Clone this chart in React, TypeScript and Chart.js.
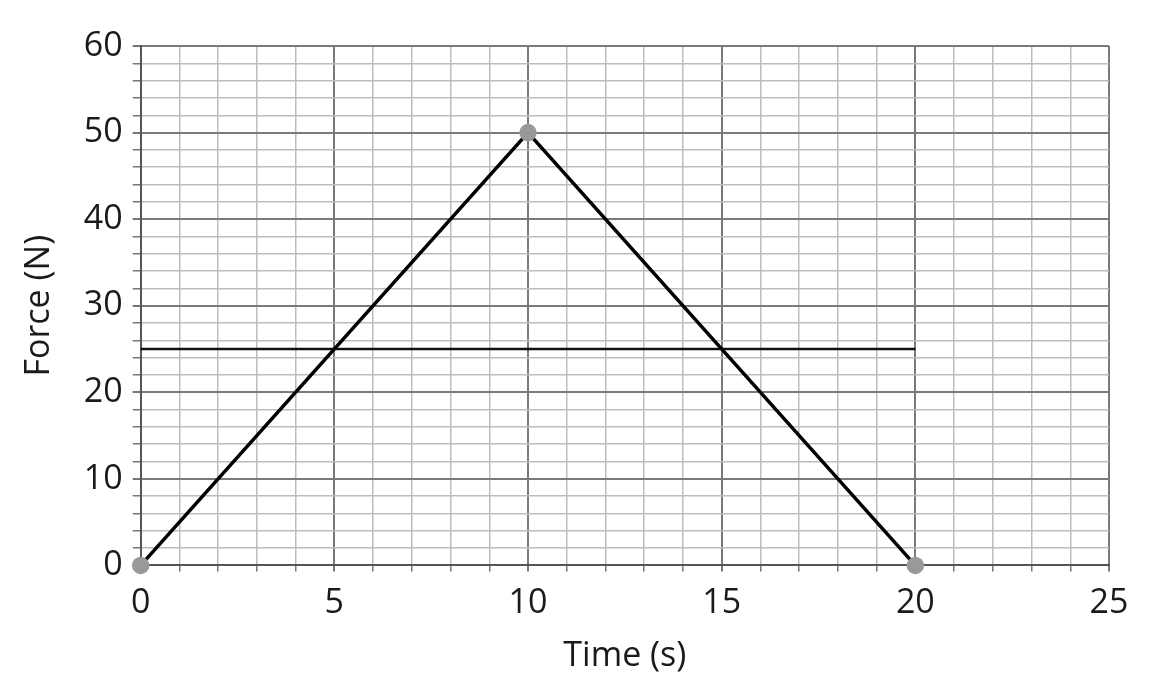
import React, { useEffect, useRef } from "react";
import { Chart, registerables } from "chart.js";

Chart.register(...registerables);

const forceTimes = [0, 10, 20];
const forceValues = [0, 50, 0];
const avgTimes = [0, 20];
const avgValues = [25, 25];
const xTickLabels = [0, 5, 10, 15, 20, 25];
const yTickLabels = [0, 10, 20, 30, 40, 50, 60];

export default function App() {
  const ref = useRef<HTMLCanvasElement>(null);
  useEffect(() => {
    document.body.style.margin = "0";
    const family = "'Open Sans', 'Noto Sans', sans-serif";
    const tickFont = { family, size: 34 };
    const titleFont = { family, size: 34 };
    const chart = new Chart(ref.current!, {
      type: "scatter",
      data: {
        datasets: [
          {
            data: forceTimes.map((t, i) => ({ x: t, y: forceValues[i] })),
            showLine: true,
            borderColor: "#000",
            borderWidth: 3.5,
            pointRadius: 7,
            pointBackgroundColor: "#999",
            pointBorderColor: "#999",
            clip: false,
          },
          {
            data: avgTimes.map((t, i) => ({ x: t, y: avgValues[i] })),
            showLine: true,
            borderColor: "#111",
            borderWidth: 2.5,
            pointRadius: 0,
            clip: false,
          },
        ],
      },
      options: {
        animation: false,
        responsive: false,
        layout: { padding: { left: 19, top: 46, right: 41, bottom: 0 } },
        plugins: { legend: { display: false }, tooltip: { enabled: false } },
        scales: {
          x: {
            type: "linear",
            min: 0,
            max: 25,
            border: { color: "#555", width: 2 },
            ticks: {
              stepSize: 1,
              autoSkip: false,
              maxRotation: 0,
              color: "#1a1a1a",
              font: tickFont,
              padding: 12,
              callback: (v: any) => (xTickLabels.includes(Number(v)) ? String(v) : ""),
            },
            grid: {
              color: (c: any) => (c.tick && c.tick.value % 5 === 0 ? "#7a7a7a" : "#bdbdbd"),
              lineWidth: (c: any) => (c.tick && c.tick.value % 5 === 0 ? 2 : 1.5),
              tickLength: 6,
              tickColor: "#777",
            },
            title: { display: true, text: "Time (s)", color: "#1a1a1a", font: titleFont, padding: { top: 0, bottom: 3 } },
          },
          y: {
            type: "linear",
            min: 0,
            max: 60,
            border: { color: "#555", width: 2 },
            ticks: {
              stepSize: 2,
              autoSkip: false,
              color: "#1a1a1a",
              font: tickFont,
              padding: 10,
              callback: (v: any) => (yTickLabels.includes(Number(v)) ? String(v) : ""),
            },
            grid: {
              color: (c: any) => (c.tick && c.tick.value % 10 === 0 ? "#7a7a7a" : "#bdbdbd"),
              lineWidth: (c: any) => (c.tick && c.tick.value % 10 === 0 ? 2 : 1.5),
              tickLength: 8,
              tickColor: "#777",
            },
            title: { display: true, text: "Force (N)", color: "#1a1a1a", font: titleFont, padding: { top: 0, bottom: 14 } },
          },
        },
      },
    });
    return () => chart.destroy();
  }, []);
  return <canvas ref={ref} width={1150} height={680} style={{ display: "block" }} />;
}
